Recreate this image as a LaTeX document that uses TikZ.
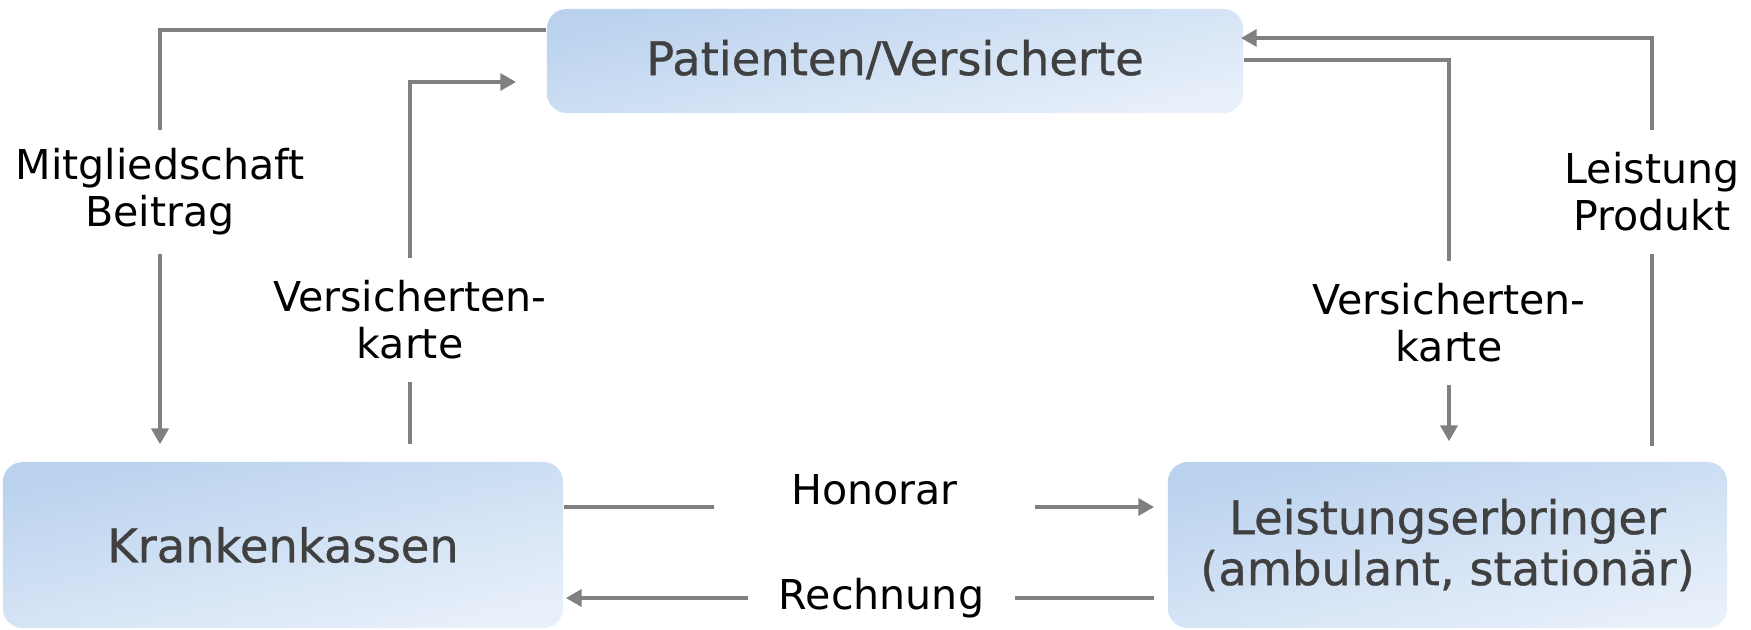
\documentclass[tikz,border=0pt]{standalone}
\usepackage{fontspec}
\setmainfont{DejaVu Sans}
\newfontfamily\boxfont{DejaVu Sans}[BoldFont={DejaVu Sans}, BoldFeatures={FakeBold=0.7}]
\usetikzlibrary{arrows.meta}
\definecolor{blueA}{RGB}{186,210,238}
\definecolor{blueB}{RGB}{232,240,250}
\definecolor{boxtext}{RGB}{64,64,64}
\definecolor{linegray}{RGB}{128,128,128}
\tikzset{
  boxnode/.style={rounded corners=0.2cm, top color=blueA, bottom color=blueB, shading angle=12,
    draw=none, text=boxtext, font=\boxfont\bfseries\fontsize{13.2}{14.5}\selectfont, align=center, inner sep=0pt},
  lbl/.style={font=\fontsize{11.7}{13.4}\selectfont, align=center, inner sep=0pt, text=black},
  conn/.style={draw=linegray, line width=1.2pt},
  connb/.style={draw=linegray, line width=1.4pt},
  arr/.style={-{Triangle[length=4.5pt,width=4.8pt]}}
}
\begin{document}
\begin{tikzpicture}[x=0.01cm,y=-0.01cm]
\useasboundingbox (0,0) rectangle (1751,629);
% boxes
\node[boxnode, minimum width=6.96cm, minimum height=1.04cm] (pat) at (895,61) {\raisebox{2pt}{Patienten/Versicherte}};
\node[boxnode, minimum width=5.60cm, minimum height=1.66cm] (kk) at (283,545) {Krankenkassen};
\node[boxnode, minimum width=5.59cm, minimum height=1.66cm] (le) at (1447.5,545) {Leistungserbringer\\[0pt](ambulant, station\"ar)};
% labels
\node[lbl, minimum height=1.23cm] (mg) at (160,192) {Mitgliedschaft\\Beitrag};
\node[lbl, minimum height=1.23cm] (vl) at (410,320) {Versicherten-\\karte};
\node[lbl, minimum height=1.23cm] (vr) at (1449,323) {Versicherten-\\karte};
\node[lbl, minimum height=1.23cm] (lp) at (1652,192) {Leistung\\Produkt};
\node[lbl, minimum width=3.19cm] (ho) at (874.5,490) {Honorar};
\node[lbl, minimum width=2.65cm] (re) at (881.5,598) {Rechnung};
% Mitgliedschaft / Beitrag
\draw[conn] (pat.west |- 0,30) -| (mg.north);
\draw[conn,arr,shorten >=0.17cm] (mg.south) -- (kk.north -| mg.south);
% Versichertenkarte left
\draw[conn,shorten <=0.17cm] (kk.north -| vl.south) -- (vl.south);
\draw[conn,arr,shorten >=0.30cm] (vl.north) |- (pat.west |- 0,82);
% Versichertenkarte right
\draw[conn] (pat.east |- 0,60) -| (vr.north);
\draw[conn,arr,shorten >=0.20cm] (vr.south) -- (le.north -| vr.south);
% Leistung / Produkt
\draw[conn,shorten <=0.15cm] (le.north -| lp.south) -- (lp.south);
\draw[conn,arr,shorten >=-0.03cm] (lp.north) |- (pat.east |- 0,38);
% Honorar
\draw[connb] (kk.east |- 0,507) -- (ho.west |- 0,507);
\draw[connb,arr,shorten >=0.13cm] (ho.east |- 0,507) -- (le.west |- 0,507);
% Rechnung
\draw[connb,shorten <=0.13cm] (le.west |- 0,598) -- (re.east |- 0,598);
\draw[connb,arr,shorten >=0.02cm] (re.west |- 0,598) -- (kk.east |- 0,598);
\end{tikzpicture}
\end{document}
